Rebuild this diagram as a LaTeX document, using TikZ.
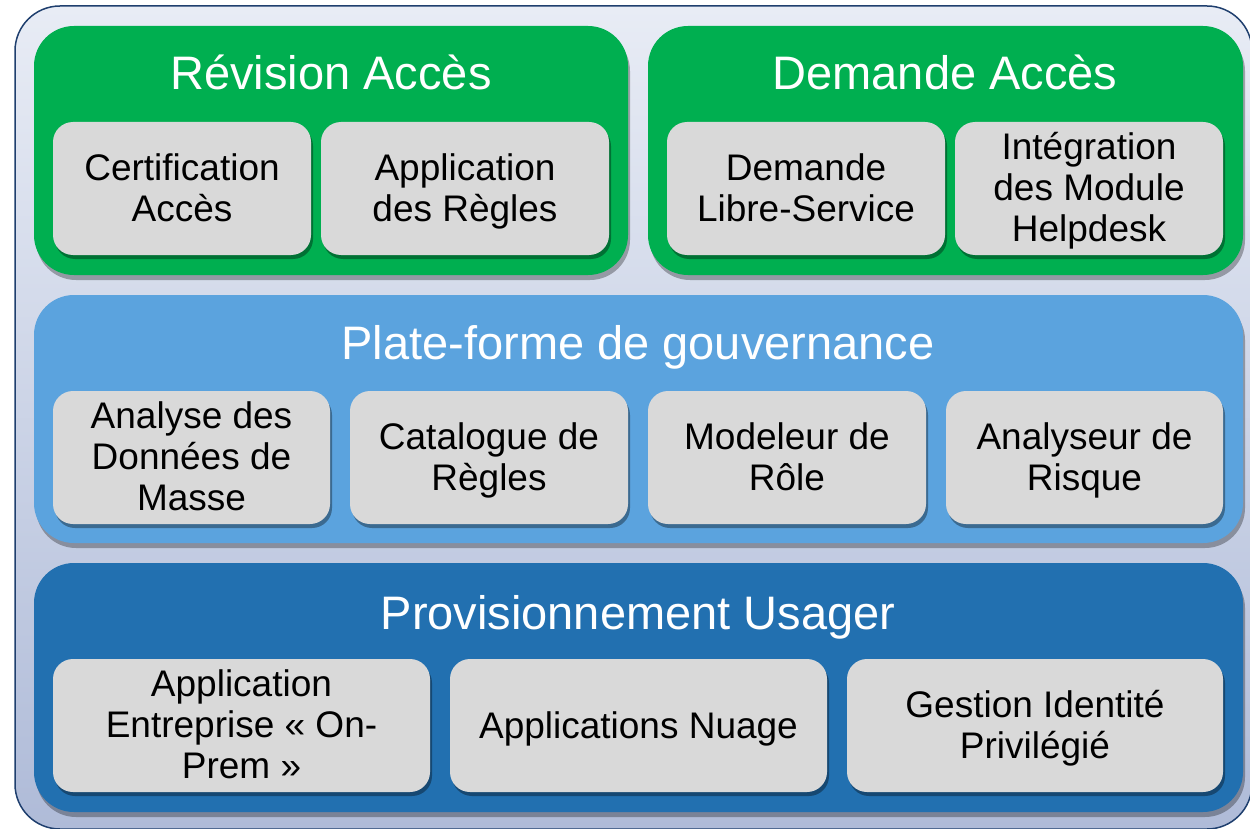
\documentclass[tikz,border=0pt]{standalone}
\usepackage{fontspec}
\setmainfont{Liberation Sans}
\usetikzlibrary{shadows}
\definecolor{frameline}{HTML}{1F3F6E}
\definecolor{frametop}{HTML}{E8ECF5}
\definecolor{framebot}{HTML}{AFBBD8}
\definecolor{pgreen}{HTML}{00AF50}
\definecolor{plight}{HTML}{5BA3DE}
\definecolor{pdark}{HTML}{2270B0}
\definecolor{cellgray}{HTML}{D9D9D9}
\tikzset{
  panel/.style={rounded corners=40pt, drop shadow={shadow xshift=2pt, shadow yshift=-5pt, opacity=0.3, fill=black}},
  cell/.style={fill=cellgray, rounded corners=20pt, inner sep=0pt, minimum height=133pt,
    drop shadow={shadow xshift=2pt, shadow yshift=-4pt, opacity=0.35, fill=black}},
  celltext/.style={inner sep=0pt, align=center, font=\fontsize{37}{41}\selectfont, text=black, yshift=-5pt,
    execute at begin node=\strut, execute at end node=\strut},
  ptitle/.style={text=white, font=\fontsize{47}{52}\selectfont, anchor=base, inner sep=0pt}
}
\begin{document}
\begin{tikzpicture}[x=1pt,y=-1pt]
\useasboundingbox (0,0) rectangle (1250,829);
\clip (0,0) rectangle (1250,829);
% outer frame
\path[draw=frameline, line width=1.5pt, top color=frametop, bottom color=framebot, rounded corners=45pt]
  (15,6) rectangle (1252,829);
% panels
\path[panel, fill=pgreen] (34,26) rectangle (628,275);
\path[panel, fill=pgreen] (648,26) rectangle (1243,275);
\path[panel, fill=plight] (34,295) rectangle (1243,543);
\path[panel, fill=pdark] (34,563) rectangle (1243,812);
% titles
\node[ptitle] (t1) at (331,90) {Révision Accès};
\node[ptitle] (t2) at (945,90) {Demande Accès};
\node[ptitle] (t3) at (638,359) {Plate-forme de gouvernance};
\node[ptitle] (t4) at (638,629) {Provisionnement Usager};
% row 1
\node[cell, minimum width=258pt] (c11) at (182,188.5) {};
\node[celltext] (c11t) at (c11.center) {Certification\\Accès};
\node[cell, minimum width=288pt] (c12) at (465,188.5) {};
\node[celltext] (c12t) at (c12.center) {Application\\des Règles};
\node[cell, minimum width=278pt] (c13) at (806,188.5) {};
\node[celltext] (c13t) at (c13.center) {Demande\\Libre-Service};
\node[cell, minimum width=268pt] (c14) at (1089,188.5) {};
\node[celltext] (c14t) at (c14.center) {Intégration\\des Module\\Helpdesk};
% row 2
\node[cell, minimum width=277pt] (c21) at (191.5,457.5) {};
\node[celltext] (c21t) at (c21.center) {Analyse des\\Données de\\Masse};
\node[cell, minimum width=278pt] (c22) at (489,457.5) {};
\node[celltext] (c22t) at (c22.center) {Catalogue de\\Règles};
\node[cell, minimum width=278pt] (c23) at (787,457.5) {};
\node[celltext] (c23t) at (c23.center) {Modeleur de\\Rôle};
\node[cell, minimum width=277pt] (c24) at (1084.5,457.5) {};
\node[celltext] (c24t) at (c24.center) {Analyseur de\\Risque};
% row 3
\node[cell, minimum width=377pt] (c31) at (241.5,725.5) {};
\node[celltext] (c31t) at (c31.center) {Application\\Entreprise « On-\\Prem »};
\node[cell, minimum width=377pt] (c32) at (638.5,725.5) {};
\node[celltext] (c32t) at (c32.center) {Applications Nuage};
\node[cell, minimum width=376pt] (c33) at (1035,725.5) {};
\node[celltext] (c33t) at (c33.center) {Gestion Identité\\Privilégié};
\end{tikzpicture}
\end{document}
